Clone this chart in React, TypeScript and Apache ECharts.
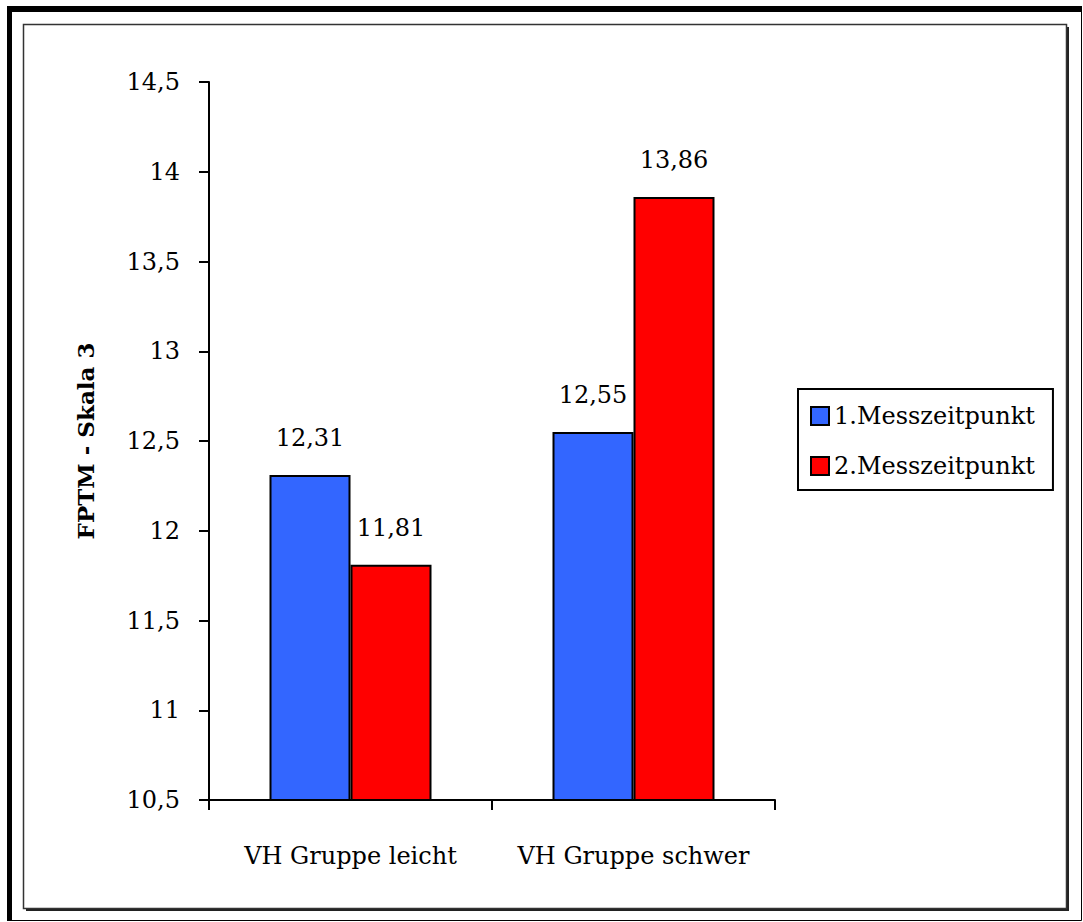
import React, { useEffect, useRef } from "react";
import * as echarts from "echarts";

const categories = ["VH Gruppe leicht", "VH Gruppe schwer"];
const seriesNames = ["1.Messzeitpunkt", "2.Messzeitpunkt"];
const series1 = [12.31, 12.55];
const series2 = [11.81, 13.86];
const yTicks = { min: 10.5, max: 14.5, interval: 0.5 };
const colors = ["#3366FF", "#FF0000"];

const FONT = "DejaVu Serif";
const comma = (v: number) => String(v).replace(".", ",");

export default function App() {
  const ref = useRef<HTMLDivElement>(null);
  useEffect(() => {
    const chart = echarts.init(ref.current!, null, { renderer: "svg" });
    const barStyle = (c: string) => ({ color: c, borderColor: "#000", borderWidth: 2 });
    const label = {
      show: true,
      position: "top" as const,
      distance: 25,
      fontFamily: FONT,
      fontSize: 24,
      color: "#000",
      formatter: (p: any) => comma(p.value),
    };
    chart.setOption({
      animation: false,
      backgroundColor: "#fff",
      textStyle: { fontFamily: FONT },
      graphic: [
        { type: "rect", z: -20, shape: { x: 7.5, y: 6.5, width: 1074, height: 914 }, style: { fill: "#fff", stroke: "#000", lineWidth: 1 } },
        { type: "rect", z: -19, shape: { x: 7, y: 6, width: 1075, height: 6 }, style: { fill: "#000" } },
        { type: "rect", z: -19, shape: { x: 7, y: 6, width: 5, height: 915 }, style: { fill: "#000" } },
        { type: "rect", z: -18, shape: { x: 26, y: 27, width: 1043, height: 884 }, style: { fill: "#222" } },
        { type: "rect", z: -17, shape: { x: 23.5, y: 24.5, width: 1043, height: 884 }, style: { fill: "#fff", stroke: "#333", lineWidth: 1.5 } },
      ],
      legend: {
        orient: "vertical",
        left: 798,
        top: 389,
        padding: [12, 18, 9, 12],
        itemWidth: 18,
        itemHeight: 18,
        itemGap: 20,
        itemTextGap: 14,
        borderColor: "#000",
        borderWidth: 2,
        backgroundColor: "#fff",
        icon: "rect",
        itemStyle: { borderColor: "#000", borderWidth: 2 },
        textStyle: { fontFamily: FONT, fontSize: 24, color: "#000", lineHeight: 30 },
        data: seriesNames,
      },
      grid: { left: 209, right: 308, top: 82, bottom: 122, containLabel: false },
      xAxis: {
        type: "category",
        data: categories,
        axisLine: { lineStyle: { color: "#000", width: 2 } },
        axisTick: { show: true, inside: false, length: 10, lineStyle: { color: "#000", width: 2 } },
        axisLabel: { fontFamily: FONT, fontSize: 24, color: "#000", margin: 44, interval: 0 },
        splitLine: { show: false },
      },
      yAxis: {
        type: "value",
        min: yTicks.min,
        max: yTicks.max,
        interval: yTicks.interval,
        name: "FPTM - Skala 3",
        nameLocation: "middle",
        nameGap: 112,
        nameRotate: 90,
        nameTextStyle: { fontFamily: FONT, fontSize: 23, fontWeight: "bold", color: "#000" },
        axisLine: { show: true, lineStyle: { color: "#000", width: 2 } },
        axisTick: { show: true, inside: false, length: 10, lineStyle: { color: "#000", width: 2 } },
        axisLabel: { fontFamily: FONT, fontSize: 24, color: "#000", margin: 29, formatter: comma },
        splitLine: { show: false },
      },
      series: [
        { name: seriesNames[0], type: "bar", data: series1, barWidth: 81, barGap: "0%", itemStyle: barStyle(colors[0]), label },
        { name: seriesNames[1], type: "bar", data: series2, barWidth: 81, barGap: "0%", itemStyle: barStyle(colors[1]), label },
      ],
    });
    return () => chart.dispose();
  }, []);
  return <div ref={ref} style={{ position: "absolute", left: 0, top: 0, width: 1083, height: 922 }} />;
}
